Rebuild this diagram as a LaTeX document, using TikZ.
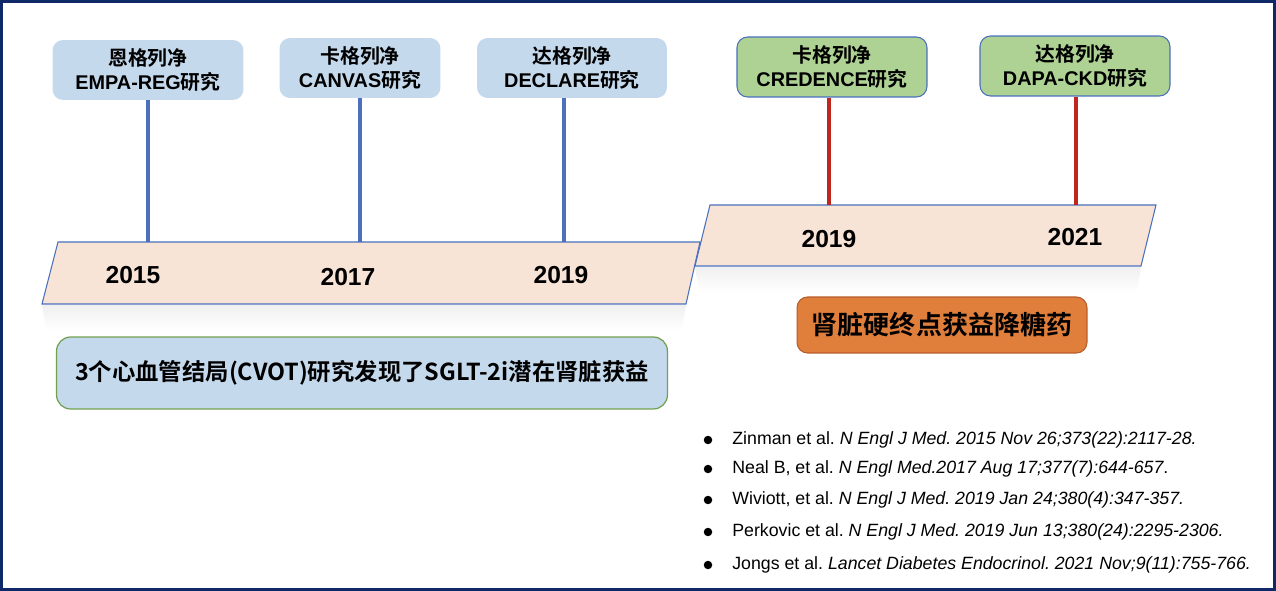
\documentclass[tikz,border=0pt]{standalone}
\usepackage{fontspec}
\setmainfont{Liberation Sans}
\newfontfamily\cjk{Noto Sans CJK SC}[BoldFont={Noto Sans CJK SC Bold}]
\usetikzlibrary{positioning,calc}
\definecolor{navy}{RGB}{14,40,104}
\definecolor{boxblue}{RGB}{197,217,237}
\definecolor{boxgreen}{RGB}{174,209,148}
\definecolor{stemblue}{RGB}{74,112,190}
\definecolor{stemred}{RGB}{190,38,30}
\definecolor{barfill}{RGB}{248,228,215}
\definecolor{orange2}{RGB}{224,126,60}
\definecolor{orangeline}{RGB}{184,92,40}
\definecolor{green2}{RGB}{112,160,80}
\newcommand{\zh}[1]{{\cjk\bfseries #1}}
\frenchspacing
\tikzset{
  trialbox/.style={rounded corners=6pt, fill=boxblue, inner sep=0pt,
    minimum width=3.8cm, minimum height=1.2cm, align=center,
    font=\bfseries\fontsize{11.3}{14.2}\selectfont},
  kidneybox/.style={trialbox, fill=boxgreen, draw=stemblue, line width=0.6pt},
  yearlabel/.style={font=\bfseries\fontsize{14}{16}\selectfont},
  bluestem/.style={draw=stemblue, line width=1.8pt},
  redstem/.style={draw=stemred, line width=1.8pt},
  timebar/.style={fill=barfill, draw=stemblue, line width=0.6pt},
  refl/.style={top color=black!6, bottom color=white, draw=none},
  reftext/.style={anchor=west, inner sep=0pt, font=\fontsize{10.1}{12}\selectfont},
  dot/.style={circle, fill=black, inner sep=0pt, minimum size=0.17cm}
}
\begin{document}
\begin{tikzpicture}[x=0.02cm, y=-0.02cm]
\useasboundingbox (0,0) rectangle (1276,591);
\draw[navy, line width=1.8pt] (1.6,1.6) rectangle (1274.4,589.4);

% time bars
\shade[refl] (42,305) -- (686,305) -- (682,330) -- (46,330) -- cycle;
\shade[refl] (695,267) -- (1141,267) -- (1137,292) -- (699,292) -- cycle;
\draw[timebar] (58,242) -- (700,242) -- (686,304) -- (42,304) -- cycle;
\draw[timebar] (710,205) -- (1156,205) -- (1141,266) -- (695,266) -- cycle;

% trials
\node[trialbox, minimum width=3.82cm] (empa) at (148,70) {\zh{恩格列净}\\EMPA-REG\zh{研究}};
\node[trialbox, minimum width=3.22cm] (canvas) at (360,68) {\zh{卡格列净}\\CANVAS\zh{研究}};
\node[trialbox] (declare) at (572,68) {\zh{达格列净}\\DECLARE\zh{研究}};
\node[kidneybox] (credence) at (832,67) {\zh{卡格列净}\\CREDENCE\zh{研究}};
\node[kidneybox] (dapa) at (1075,66) {\zh{达格列净}\\DAPA-CKD\zh{研究}};

\coordinate (s1) at (148,242);
\coordinate (s2) at (360,242);
\coordinate (s3) at (564,242);
\coordinate (s4) at (829,205);
\coordinate (s5) at (1076,205);
\draw[bluestem] (s1 |- empa.south) -- (s1);
\draw[bluestem] (s2 |- canvas.south) -- (s2);
\draw[bluestem] (s3 |- declare.south) -- (s3);
\draw[redstem] (s4 |- credence.south) -- (s4);
\draw[redstem] (s5 |- dapa.south) -- (s5);

% years
\node[yearlabel] (y15) at (133,275) {2015};
\node[yearlabel] (y17) at (348,277) {2017};
\node[yearlabel] (y19a) at (561,275) {2019};
\node[yearlabel] (y19b) at (829,239) {2019};
\node[yearlabel] (y21) at (1075,237) {2021};

% summaries
\node[rounded corners=6pt, fill=orange2, draw=orangeline, line width=0.6pt,
  minimum width=5.8cm, minimum height=1.12cm,
  font=\cjk\bfseries\fontsize{14.8}{16}\selectfont] (hard) at (942,325) {肾脏硬终点获益降糖药};
\node[rounded corners=8pt, fill=boxblue, draw=green2, line width=0.7pt,
  minimum width=12.22cm, minimum height=1.44cm,
  font=\cjk\bfseries\fontsize{13.3}{16}\selectfont] (cvot) at (362,373) {3个心血管结局(CVOT)研究发现了SGLT-2i潜在肾脏获益};

% references
\node[dot] (b1) at (708,440) {};
\node[dot] (b2) at (708,469) {};
\node[dot] (b3) at (708,500) {};
\node[dot] (b4) at (708,532) {};
\node[dot] (b5) at (708,565) {};
\node[reftext] (r1) at (732,440) {Zinman et al. \textit{N Engl J Med. 2015 Nov 26;373(22):2117-28.}};
\node[reftext] (r2) at (732,469) {Neal B, et al. \textit{N Engl Med.2017 Aug 17;377(7):644-657}.};
\node[reftext] (r3) at (732,500) {Wiviott, et al. \textit{N Engl J Med. 2019 Jan 24;380(4):347-357.}};
\node[reftext] (r4) at (732,532) {Perkovic et al. \textit{N Engl J Med. 2019 Jun 13;380(24):2295-2306.}};
\node[reftext] (r5) at (732,565) {Jongs et al. \textit{Lancet Diabetes Endocrinol. 2021 Nov;9(11):755-766.}};
\end{tikzpicture}
\end{document}
